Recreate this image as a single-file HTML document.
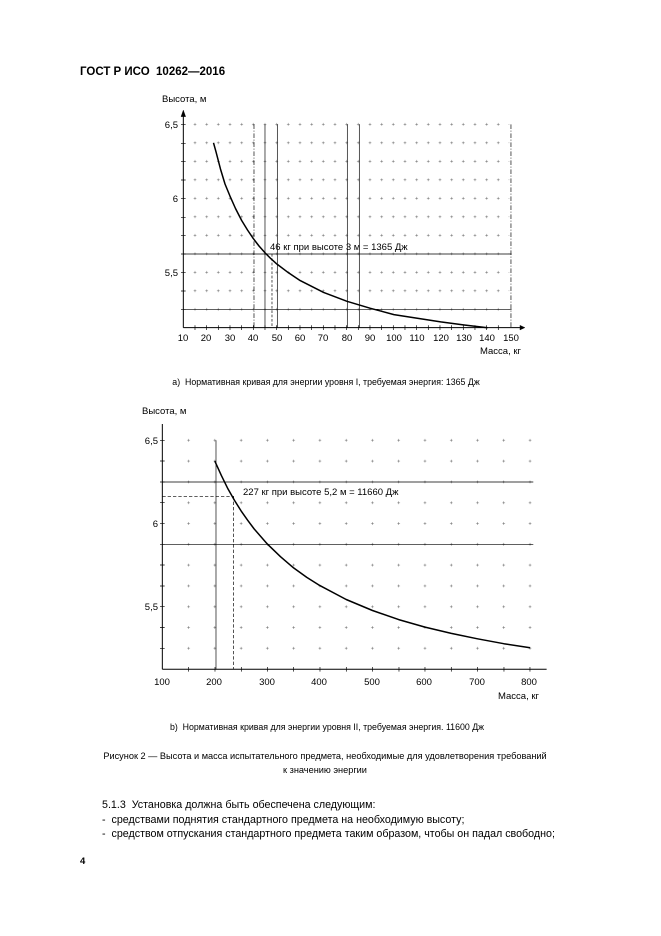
<!DOCTYPE html>
<html><head><meta charset="utf-8"><style>
body{margin:0;background:#fff;width:661px;height:936px;position:relative;overflow:hidden;font-family:"Liberation Sans","Noto Sans CJK SC",sans-serif;color:#000}
.t{position:absolute;white-space:nowrap}
</style></head><body>
<svg width="661" height="936" style="position:absolute;left:0;top:0" font-family="Liberation Sans, sans-serif">
<defs>
<pattern id="p1" patternUnits="userSpaceOnUse" x="117.5" y="75.25" width="35" height="55.5"><path d="M13.5 27.75h8M17.5 23.75v8" stroke="#666" stroke-width="1.5"/></pattern>
<pattern id="p2" patternUnits="userSpaceOnUse" x="106.4" y="89.8" width="78.8" height="62.4"><path d="M35.4 31.2h8M39.4 27.2v8" stroke="#666" stroke-width="1.5"/></pattern>
</defs>
<g transform="translate(150,90) scale(0.3333)" fill="none" stroke="#000">
<rect x="118" y="90" width="960" height="580" fill="url(#p1)" stroke="none"/>
<path d="M100 492H1085M100 658H1085" stroke-width="2"/>
<path d="M345 103V713M382 103V713M592 103V713M628 103V713" stroke-width="2"/>
<path d="M312 103V713M1083 103V713" stroke-width="2" stroke-dasharray="14 5 3 5"/>
<path d="M366 492V713" stroke-width="2" stroke-dasharray="8 5"/>
<path d="M100 713H1110M100 713V75" stroke-width="3"/>
<path d="M1110 706L1125 713L1110 720ZM93 80L100 60L107 80Z" fill="#000"/>
<path d="M135 706V720M170 706V720M205 706V720M240 706V720M275 706V720M310 706V720M345 706V720M380 706V720M415 706V720M450 706V720M485 706V720M520 706V720M555 706V720M590 706V720M625 706V720M660 706V720M695 706V720M730 706V720M765 706V720M800 706V720M835 706V720M870 706V720M905 706V720M940 706V720M975 706V720M1010 706V720M1045 706V720M93 103H107M93 160H107M93 215H107M93 270H107M93 325H107M93 382H107M93 437H107M93 492H107M93 547H107M93 603H107M93 658H107" stroke-width="2"/>
</g>
<path d="M213.5 142.8L216 151.8L220.5 169.1L225 184L229.9 195.9L235.5 208.5L241.6 220.4L247.5 230L253.3 238.6L259 246L265 252.8L270.8 258.6L276.7 263.9L288.5 272.8L300.2 280.6L323.6 292.4L347 301.3L370.4 308.3L393.9 314.6L417.3 318.2L440.7 321.9L464.2 325L487.6 327.7" fill="none" stroke="#000" stroke-width="1.5" stroke-linejoin="round"/>
<g transform="translate(140,400) scale(0.3333)" fill="none" stroke="#000">
<rect x="110" y="100" width="1075" height="660" fill="url(#p2)" stroke="none"/>
<path d="M67 246H1180M67 433H1180" stroke-width="2"/>
<path d="M228 121V808" stroke-width="2"/>
<path d="M281 289V808M67 289H281" stroke-width="2" stroke-dasharray="10 6"/>
<path d="M67 808H1220M67 808V72" stroke-width="3"/>
<path d="M146 801V815M225 801V815M304 801V815M383 801V815M461 801V815M540 801V815M619 801V815M698 801V815M777 801V815M855 801V815M934 801V815M1013 801V815M1092 801V815M1170 801V815M60 121H74M60 183H74M60 246H74M60 308H74M60 370H74M60 433H74M60 495H74M60 558H74M60 620H74M60 683H74M60 745H74" stroke-width="2"/>
</g>
<path d="M214.8 461.1L221.4 475.6L227.9 488.8L234.5 500.4L241.1 510.9L247.7 520.3L254.2 529L267.4 544.1L280.5 556.7L293.6 567.9L306.8 577.4L319.9 585.6L346.2 599.5L372.5 610.5L398.7 619.6L425 627.1L451.3 633.4L477.5 638.8L503.8 643.7L530.1 647.8" fill="none" stroke="#000" stroke-width="1.5" stroke-linejoin="round"/>
<g font-size="9.5" fill="#000" text-anchor="middle">
<text x="183" y="341">10</text><text x="206" y="341">20</text><text x="230" y="341">30</text><text x="253" y="341">40</text><text x="277" y="341">50</text><text x="300" y="341">60</text><text x="323" y="341">70</text><text x="347" y="341">80</text><text x="370" y="341">90</text><text x="394" y="341">100</text><text x="417" y="341">110</text><text x="441" y="341">120</text><text x="464" y="341">130</text><text x="487" y="341">140</text><text x="511" y="341">150</text>
<text x="162" y="685">100</text><text x="214" y="685">200</text><text x="267" y="685">300</text><text x="319" y="685">400</text><text x="372" y="685">500</text><text x="424" y="685">600</text><text x="477" y="685">700</text><text x="529" y="685">800</text>
</g>
<g font-size="9.5" fill="#000" text-anchor="end">
<text x="178" y="128">6,5</text><text x="178" y="202">6</text><text x="178" y="276">5,5</text>
<text x="158" y="444">6,5</text><text x="158" y="527">6</text><text x="158" y="610">5,5</text>
</g>
<g font-size="9.5" fill="#000">
<text x="162" y="102">Высота, м</text>
<text x="480" y="354">Масса, кг</text>
<text x="270" y="250">46 кг при высоте 3 м = 1365 Дж</text>
<text x="142" y="414">Высота, м</text>
<text x="498" y="699">Масса, кг</text>
<text x="243" y="495">227 кг при высоте 5,2 м = 11660 Дж</text>
</g>
</svg>
<div class="t" style="left:0;width:652px;text-align:center;top:377px;font-size:8.8px;">a)&nbsp; Нормативная кривая для энергии уровня I, требуемая энергия: 1365 Дж</div>
<div class="t" style="left:0;width:654px;text-align:center;top:722px;font-size:8.8px;">b)&nbsp; Нормативная кривая для энергии уровня II, требуемая энергия. 11600 Дж</div>
<div class="t" style="left:0;width:650px;text-align:center;top:749px;font-size:9.2px;line-height:14px">Рисунок 2 — Высота и масса испытательного предмета, необходимые для удовлетворения требований<br>к значению энергии</div>
<div class="t" style="left:80px;top:66px;font-size:11.5px;font-weight:bold">ГОСТ Р ИСО&nbsp; 10262—2016</div>
<div class="t" style="left:102px;top:798px;font-size:10.7px;line-height:14.5px">5.1.3&nbsp; Установка должна быть обеспечена следующим:<br>-&nbsp; средствами поднятия стандартного предмета на необходимую высоту;<br>-&nbsp; средством отпускания стандартного предмета таким образом, чтобы он падал свободно;</div>
<div class="t" style="left:80px;top:856px;font-size:9.5px;font-weight:bold">4</div>
</body></html>
